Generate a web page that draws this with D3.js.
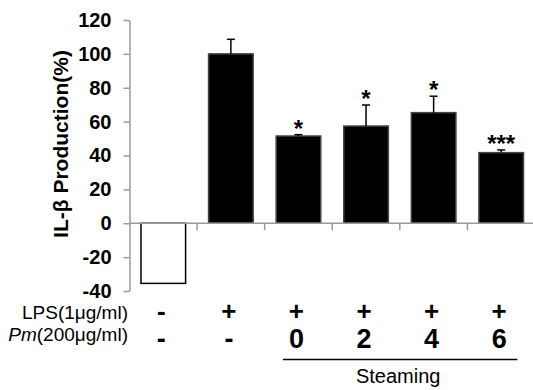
<!DOCTYPE html>
<html>
  <head>
    <style>
      body { margin: 0; background: #fff; }
      text { font-family: "Liberation Sans", Arial, sans-serif; }
    </style>
  </head>

  <body>

    <svg class="surface" width="533" height="390"></svg>

    <script src="https://cdn.jsdelivr.net/npm/d3@7/dist/d3.min.js" charset="utf-8"></script>
    <script>

      // bar data
      const groups = ['ctrl', 'lps', 's0', 's2', 's4', 's6']
      const production = [-35.5, 100, 51.5, 57.4, 65.3, 41.7]
      const errors = [0, 8.6, 0.8, 12.4, 9.7, 1.6]
      const stars = ['', '', '*', '*', '*', '***']
      const yTicks = [-40, -20, 0, 20, 40, 60, 80, 100, 120]

      // treatment table under the chart
      const lpsRow = ['-', '+', '+', '+', '+', '+']
      const pmRow = ['-', '-', '0', '2', '4', '6']

      const surface = d3.select('.surface')

      const x = d3.scaleBand().domain(groups).range([129.5, 535]).padding(0)
      const y = d3.scaleLinear().domain([-40, 120]).range([291, 20])

      const barW = x.bandwidth() * 0.66
      const axisColor = '#9a9a9a'

      // y axis (plain hyphen for negatives, like the original)
      const yAxis = surface.append('g')
        .attr('transform', 'translate(129.5,0)')
        .call(d3.axisLeft(y).tickValues(yTicks).tickFormat(d => String(d))
          .tickSize(6).tickSizeOuter(0).tickPadding(12))

      yAxis.select('.domain').attr('stroke', axisColor).attr('stroke-width', 1.5)
      yAxis.selectAll('.tick line').attr('stroke', axisColor).attr('stroke-width', 1.5)
      yAxis.selectAll('.tick text')
        .attr('fill', '#000')
        .style('font-family', '"Liberation Sans", Arial, sans-serif')
        .style('font-size', '20px')
        .style('font-weight', 'bold')

      // bars
      surface.selectAll('rect.bar').data(production)
        .enter()
        .append('rect')
          .attr('class', 'bar')
          .attr('x', (d, i) => x(groups[i]) + (x.bandwidth() - barW) / 2)
          .attr('y', d => y(Math.max(0, d)))
          .attr('width', barW)
          .attr('height', d => Math.abs(y(d) - y(0)))
          .attr('fill', d => d < 0 ? '#fff' : '#000')
          .attr('stroke', d => d < 0 ? '#000' : '#444')
          .attr('stroke-width', 1.5)

      // x axis (drawn after bars so it sits on top)
      surface.append('line')
        .attr('x1', 129.5).attr('x2', 533)
        .attr('y1', y(0)).attr('y2', y(0))
        .attr('stroke', axisColor).attr('stroke-width', 1.5)

      surface.selectAll('line.xtick').data(groups.slice(1))
        .enter()
        .append('line')
          .attr('class', 'xtick')
          .attr('x1', d => x(d)).attr('x2', d => x(d))
          .attr('y1', y(0)).attr('y2', y(0) + 7)
          .attr('stroke', axisColor).attr('stroke-width', 1.5)

      // error bars
      const withErr = production.map((d, i) => ({ g: groups[i], v: d, e: errors[i], s: stars[i] }))
        .filter(d => d.e > 0)

      const eb = surface.selectAll('g.err').data(withErr)
        .enter()
        .append('g')
          .attr('class', 'err')
          .attr('stroke', '#000')
          .attr('stroke-width', 1.5)

      eb.append('line')
        .attr('x1', d => x(d.g) + x.bandwidth() / 2)
        .attr('x2', d => x(d.g) + x.bandwidth() / 2)
        .attr('y1', d => y(d.v))
        .attr('y2', d => y(d.v + d.e))

      eb.append('line')
        .attr('x1', d => x(d.g) + x.bandwidth() / 2 - 4)
        .attr('x2', d => x(d.g) + x.bandwidth() / 2 + 4)
        .attr('y1', d => y(d.v + d.e))
        .attr('y2', d => y(d.v + d.e))

      // significance stars
      surface.selectAll('text.star').data(withErr.filter(d => d.s))
        .enter()
        .append('text')
          .attr('class', 'star')
          .attr('x', d => x(d.g) + x.bandwidth() / 2)
          .attr('y', d => y(d.v + d.e) + 2)
          .attr('text-anchor', 'middle')
          .style('font-size', '24px')
          .style('font-weight', 'bold')
          .text(d => d.s)

      // y axis title
      surface.append('text')
        .attr('transform', 'translate(68,144) rotate(-90)')
        .attr('text-anchor', 'middle')
        .style('font-size', '21px')
        .style('font-weight', 'bold')
        .text('IL-β Production(%)')

      // treatment table
      surface.append('text')
        .attr('x', 128).attr('y', 319)
        .attr('text-anchor', 'end')
        .style('font-size', '19px')
        .text('LPS(1μg/ml)')

      const pmLabel = surface.append('text')
        .attr('x', 128).attr('y', 341)
        .attr('text-anchor', 'end')
        .style('font-size', '19px')
      pmLabel.append('tspan').style('font-style', 'italic').text('Pm')
      pmLabel.append('tspan').text('(200μg/ml)')

      surface.selectAll('text.lps').data(lpsRow)
        .enter()
        .append('text')
          .attr('class', 'lps')
          .attr('x', (d, i) => x(groups[i]) + x.bandwidth() / 2 - 2)
          .attr('y', 320)
          .attr('text-anchor', 'middle')
          .style('font-size', '26px')
          .style('font-weight', 'bold')
          .text(d => d)

      surface.selectAll('text.pm').data(pmRow)
        .enter()
        .append('text')
          .attr('class', 'pm')
          .attr('x', (d, i) => x(groups[i]) + x.bandwidth() / 2 - 2)
          .attr('y', 348)
          .attr('text-anchor', 'middle')
          .style('font-size', '27px')
          .style('font-weight', 'bold')
          .text(d => d)

      // steaming bracket
      const x0 = x('s0') + x.bandwidth() * 0.27
      const x1 = x('s6') + x.bandwidth() * 0.74
      surface.append('line')
        .attr('x1', x0).attr('x2', x1)
        .attr('y1', 359.5).attr('y2', 359.5)
        .attr('stroke', '#000').attr('stroke-width', 1.5)

      surface.append('text')
        .attr('x', (x0 + x1) / 2 - 2).attr('y', 383)
        .attr('text-anchor', 'middle')
        .style('font-size', '20px')
        .text('Steaming')

    </script>
  </body>

</html>
